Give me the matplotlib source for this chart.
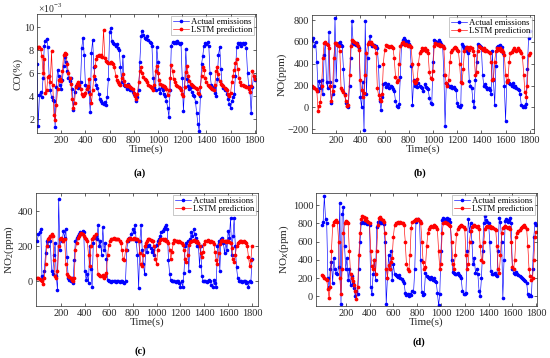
import numpy as np
import matplotlib
matplotlib.use("Agg")
import matplotlib.pyplot as plt

plt.rcParams['font.family'] = ['Liberation Serif', 'DejaVu Serif']
plt.rcParams['mathtext.fontset'] = 'custom'
plt.rcParams['mathtext.rm'] = 'Liberation Serif'

STEP = 10  # seconds between samples

co_actual = [6.8, 1.4, 4.1, 4.4, 3.9, 5.6, 8.4, 8.8, 9.0, 8.3, 5.8, 4.5, 3.9, 3.7, 3.6, 1.3, 4.8, 6.3, 5.8, 5.0,
             4.6, 5.4, 6.6, 7.4, 7.0, 6.2, 5.6, 5.3, 5.6, 4.6, 2.8, 4.4, 4.9, 5.0, 4.7, 4.8, 5.2, 8.2, 9.1, 7.6,
             5.0, 4.6, 4.8, 4.4, 2.6, 7.8, 8.9, 6.5, 5.5, 5.0, 4.7, 4.2, 3.8, 3.6, 3.4, 3.3, 3.5, 3.2, 3.9, 5.5,
             9.6, 9.9, 8.8, 8.6, 8.5, 8.4, 8.5, 8.2, 8.0, 6.5, 5.2, 7.5, 5.0, 4.9, 4.6, 5.1, 4.8, 4.5, 4.7, 4.4,
             4.2, 4.0, 3.6, 3.9, 4.5, 7.0, 9.2, 9.7, 9.3, 9.1, 9.0, 9.2, 8.9, 8.7, 8.6, 8.4, 5.6, 4.8, 4.5, 8.3,
             7.0, 4.6, 4.3, 4.8, 4.5, 4.2, 4.0, 3.6, 3.0, 2.2, 4.5, 8.4, 8.7, 8.6, 8.7, 8.6, 8.8, 8.6, 8.5, 8.6,
             5.6, 2.7, 4.8, 8.1, 5.5, 4.9, 4.6, 4.8, 4.4, 4.1, 4.0, 3.5, 2.5, 1.6, 1.0, 4.0, 6.8, 7.5, 8.4, 8.6,
             8.5, 8.7, 8.4, 6.0, 5.0, 4.6, 4.8, 4.3, 4.0, 5.5, 7.6, 8.3, 6.4, 5.0, 4.7, 4.5, 4.6, 4.2, 3.8, 3.3,
             3.0, 3.6, 3.9, 4.2, 5.8, 8.3, 8.6, 8.5, 8.6, 8.4, 8.6, 8.5, 8.6, 8.2, 6.0, 4.9, 4.4, 2.5, 4.8, 5.8,
             5.4]
co_lstm = [8.2, 8.3, 8.3, 8.1, 7.5, 6.0, 7.2, 4.3, 4.5, 5.7, 5.8, 5.2, 7.9, 5.0, 2.4, 1.9, 3.2, 4.6, 5.4, 5.5,
           5.3, 6.2, 7.6, 7.8, 7.7, 6.8, 6.0, 5.6, 5.1, 3.8, 3.0, 3.4, 4.8, 5.1, 5.2, 5.0, 4.6, 4.2, 4.0, 4.1,
           4.3, 4.6, 4.9, 5.5, 4.2, 3.4, 4.5, 5.8, 6.6, 7.2, 7.5, 7.6, 7.5, 7.6, 7.4, 9.8, 7.3, 7.1, 7.0, 6.9,
           6.9, 7.0, 6.9, 6.8, 6.5, 5.8, 5.4, 5.2, 5.1, 5.0, 5.6, 5.9, 5.3, 5.0, 4.9, 5.0, 4.9, 4.8, 4.7, 4.6,
           4.3, 4.0, 3.8, 4.2, 5.2, 6.2, 6.5, 6.0, 5.7, 5.5, 5.4, 5.2, 5.0, 4.9, 4.8, 4.7, 4.5, 5.0, 6.2, 6.6,
           6.0, 5.4, 5.1, 5.0, 4.9, 4.9, 4.8, 4.6, 4.1, 4.5, 5.6, 6.7, 6.2, 5.5, 5.2, 5.0, 4.9, 4.8, 4.7, 4.5,
           4.2, 4.0, 4.8, 6.1, 6.6, 5.8, 5.3, 5.1, 5.0, 4.9, 4.8, 4.7, 4.6, 4.3, 4.2, 4.8, 5.8, 6.5, 6.3, 5.6,
           5.2, 5.0, 4.9, 4.8, 4.7, 4.6, 4.5, 5.0, 6.2, 6.5, 5.9, 5.3, 5.1, 5.0, 4.9, 4.7, 4.6, 4.5, 4.2, 4.0,
           4.3, 5.2, 5.8, 6.3, 6.9, 7.2, 6.4, 5.6, 5.2, 5.0, 5.0, 4.9, 4.9, 4.8, 4.8, 4.6, 4.4, 4.9, 6.2, 5.8,
           5.5]

no_actual = [620, 640, 560, 600, 420, 150, 240, 180, 250, 120, 480, 590, 230, 180, 690, 230, 40, 120, 200, 820,
             250, 580, 590, 600, 570, 560, 350, 120, 40, 10, 0, 200, 450, 790, 590, 580, 570, 590, 560, 540,
             100, 0, 230, -210, 790, 120, 450, 600, 650, 580, 560, 570, 550, 560, 540, 380, 60, -20, 100, 210,
             220, 190, 200, 210, 180, 200, 190, 170, 150, 60, 10, 0, 30, 280, 580, 620, 640, 620, 600, 610,
             580, 560, 380, 20, 250, 200, 210, 190, 220, 200, 190, 180, 150, 210, 190, 180, 170, 90, 40, 30,
             420, 620, 610, 600, 590, 620, 600, 580, 560, 300, -170, 220, 210, 200, 190, 200, 180, 190, 170, 160,
             40, 10, 0, 20, 580, 560, 540, 550, 520, 500, 240, 200, 180, 60, 0, 250, 420, 580, 570, 560,
             550, 300, 200, 210, 190, 170, 180, 160, 120, 520, 250, 20, 380, 550, 560, 570, 540, 550, 500, 200,
             -120, 240, 230, 220, 210, 200, 220, 190, 200, 180, 170, 160, 120, 20, 0, 10, 0, 30, 350, 640,
             700]
no_lstm = [200, 190, 175, 165, 150, -30, 10, 50, 200, 450, 590, 600, 580, 570, 540, 200, 60, 150, 450, 590,
           590, 570, 560, 520, 180, 160, 140, 110, 60, 10, 20, 300, 560, 620, 610, 600, 590, 580, 560, 530,
           250, 160, 100, 130, 300, 500, 580, 600, 590, 600, 580, 560, 550, 500, 180, 110, 80, 60, 120, 400,
           530, 570, 560, 560, 550, 560, 550, 540, 450, 280, 230, 250, 400, 560, 590, 600, 580, 570, 580, 560,
           570, 560, 550, 400, 240, 220, 230, 260, 400, 500, 520, 540, 530, 540, 520, 530, 500, 320, 270, 260,
           330, 560, 590, 580, 570, 580, 560, 570, 560, 540, 300, 220, 200, 250, 420, 510, 530, 540, 550, 540,
           530, 520, 400, 230, 220, 350, 520, 540, 550, 540, 530, 550, 540, 520, 480, 300, 320, 520, 560, 550,
           540, 530, 540, 520, 530, 520, 510, 500, 420, 250, 260, 420, 520, 540, 530, 540, 520, 530, 510, 480,
           300, 230, 250, 420, 500, 510, 530, 540, 530, 520, 540, 530, 520, 500, 460, 300, 140, 100, 200, 480,
           500]

no2_actual = [230, 270, 280, 300, 30, 20, 60, 160, 230, 200, 250, 230, 60, 40, 150, 220, 30, -50, 470, 180,
              240, 230, 290, 250, 300, 140, 20, 10, 0, 20, -10, 120, 230, 250, 260, 270, 280, 270, 290, 280,
              60, 10, 40, -10, 200, 70, -30, 220, 250, 260, 240, 320, 200, 230, 150, 310, 180, 220, 130, 10,
              0, 0, -5, 0, 5, 0, -5, 0, 0, -5, 0, 5, -5, -10, 0, 180, 230, 250, 240, 270,
              300, 280, 320, 230, 150, -40, 230, 320, 180, 100, 40, 200, 170, 200, 210, 190, 170, 180, 150, 200,
              210, 230, 240, 260, 280, 290, 300, 310, 320, 300, 120, 40, 10, 0, 5, 0, -5, 0, 0, -10,
              -30, 0, -30, 50, 200, 220, 230, 60, 240, 280, 260, 300, 270, 250, 200, 220, 90, 200, 30, 0,
              5, 0, -5, 0, 10, 0, -20, -30, 10, -10, -30, 200, 230, 60, 240, 250, 220, 160, 230, 180,
              290, 250, 360, 150, 260, 360, 200, 80, 20, 0, 5, 0, -5, 0, 0, -10, -5, -30, 0, -5,
              130]
no2_lstm = [20, 20, 15, 10, 5, -15, 20, 100, 200, 240, 250, 260, 270, 260, 120, 30, 20, 60, 200, 240,
            250, 240, 230, 240, 100, 40, 30, 25, 20, 10, 5, 20, 180, 220, 250, 260, 270, 275, 270, 260,
            250, 240, 230, 150, 90, 200, 240, 250, 260, 270, 150, 40, 35, 30, 30, 35, 20, 30, 50, 150,
            210, 230, 240, 240, 250, 245, 240, 245, 240, 230, 220, 180, 130, 120, 180, 230, 240, 245, 250, 240,
            245, 250, 240, 245, 240, 230, 160, 100, 90, 150, 200, 220, 230, 240, 240, 235, 230, 230, 200, 130,
            100, 180, 220, 235, 240, 240, 235, 240, 230, 230, 220, 180, 130, 170, 220, 235, 230, 230, 225, 230,
            225, 220, 210, 180, 130, 110, 150, 210, 225, 230, 230, 235, 230, 225, 230, 220, 200, 160, 140, 170,
            215, 230, 230, 235, 230, 225, 230, 225, 215, 170, 120, 100, 160, 215, 230, 235, 230, 230, 225, 230,
            230, 225, 220, 190, 130, 110, 150, 200, 220, 225, 230, 230, 225, 230, 225, 220, 200, 140, 90, 120,
            200]

nox_actual = [780, 820, 1100, 850, 800, 200, 100, 300, 380, 150, 420, 300, 260, 240, 320, 1030, -90, 900, 980, 550,
              300, 420, 180, 300, 120, 220, 150, 90, 0, 60, 20, 300, 600, 800, 820, 810, 830, 800, 790, 810,
              780, 100, 20, 250, 400, 180, 760, 820, 800, 830, 810, 800, 790, 600, -90, 200, 450, 300, 500, 180,
              350, 250, 230, 220, 210, 230, 200, 190, 170, 150, 40, 10, 20, 0, 30, 10, 60, 50, 300, 820,
              840, 850, 830, 400, 50, 10, 30, 260, 220, 210, 200, 190, 210, 180, 200, 170, 160, 40, -100, 20,
              500, 840, 860, 850, 830, 860, 840, 850, 820, 400, 270, 260, 250, 240, 260, 230, 220, 200, 60, 30,
              20, 40, 500, 850, 720, 800, 600, 350, 420, 260, 300, 240, 60, 0, 200, 500, 800, 880, 840, 820,
              800, 600, 280, 250, 240, 260, 230, 220, 500, 860, 820, 600, -20, 400, 830, 850, 820, 840, 860, 800,
              300, 260, 250, 270, 240, 230, 220, 210, 200, 190, 180, 170, 150, 20, 0, 10, 0, 300, 650, 800,
              780]
nox_lstm = [230, 220, 200, 190, 180, 80, -20, 100, 500, 780, 820, 830, 840, 820, 600, 200, 20, 300, 700, 810,
            830, 820, 800, 500, 250, 200, 170, 120, 60, -30, 100, 450, 700, 850, 880, 870, 840, 860, 830, 820,
            800, 500, 330, 300, 400, 250, 500, 780, 860, 870, 850, 840, 820, 700, 300, 200, 340, 300, 380, 420,
            650, 780, 800, 810, 820, 800, 820, 810, 800, 780, 600, 350, 300, 280, 450, 750, 820, 830, 840, 850,
            840, 850, 830, 800, 600, 380, 300, 320, 550, 700, 740, 760, 770, 760, 780, 770, 760, 740, 500, 300,
            350, 700, 800, 820, 810, 800, 790, 780, 770, 600, 350, 300, 450, 680, 740, 760, 770, 780, 770, 760,
            740, 450, 300, 350, 600, 720, 760, 770, 780, 770, 760, 770, 740, 550, 400, 380, 600, 740, 760, 770,
            760, 770, 750, 760, 750, 740, 730, 550, 300, 260, 450, 700, 750, 760, 770, 760, 750, 760, 740, 600,
            320, 300, 400, 650, 700, 720, 730, 750, 760, 770, 780, 760, 740, 550, 300, 220, 180, 200, 400, 650,
            710]

legend_labels = ['Actual emissions', 'LSTM prediction']
time_ticks = [200, 400, 600, 800, 1000, 1200, 1400, 1600, 1800]

W, H = 550, 358
fig = plt.figure(figsize=(W / 100, H / 100), dpi=100)


def add_axes(l, r, t, b):
    return fig.add_axes([l / W, 1 - b / H, (r - l) / W, (b - t) / H])


panels = [
    dict(box=(37, 256, 14, 133), act=co_actual, pred=co_lstm, xlim=(0, 1810), ylim=(0.8, 11.15),
         yticks=[2, 4, 6, 8, 10], ylabel='CO(%)', tag='(a)', tagxy=(140, 173)),
    dict(box=(312, 534, 15, 133), act=no_actual, pred=no_lstm, xlim=(0, 1835), ylim=(-234, 846),
         yticks=[-200, 0, 200, 400, 600, 800], ylabel='NO(ppm)', tag='(b)', tagxy=(420, 173)),
    dict(box=(36, 258, 193, 306), act=no2_actual, pred=no2_lstm, xlim=(-10, 1850), ylim=(-140, 505),
         yticks=[0, 200, 400], ylabel=r'NO$_2$(ppm)', tag='(c)', tagxy=(140, 351)),
    dict(box=(316, 537, 193, 306), act=nox_actual, pred=nox_lstm, xlim=(-50, 1807), ylim=(-107, 1135),
         yticks=[0, 200, 400, 600, 800, 1000], ylabel=r'NO$_x$(ppm)', tag='(d)', tagxy=(419, 342)),
]

for p in panels:
    ax = add_axes(*p['box'])
    ta = np.arange(len(p['act'])) * STEP
    tp = np.arange(len(p['pred'])) * STEP
    ax.plot(ta, p['act'], '-', color='#0000ff', lw=0.45, marker='.', ms=3.2,
            label=legend_labels[0])
    ax.plot(tp, p['pred'], '-', color='#ff0000', lw=0.45, marker='.', ms=3.4,
            label=legend_labels[1])
    ax.set_xlim(*p['xlim'])
    ax.set_ylim(*p['ylim'])
    ax.set_xticks(time_ticks)
    ax.set_yticks(p['yticks'])
    ax.tick_params(direction='in', length=2, width=0.5, labelsize=7.5, pad=2,
                   top=True, right=True, colors='#262626', labelcolor='#262626')
    for s in ax.spines.values():
        s.set_linewidth(0.5)
        s.set_color('#262626')
    ax.set_xlabel('Time(s)', fontsize=8, labelpad=0, color='#262626')
    ax.set_ylabel(p['ylabel'], fontsize=8, labelpad=1, color='#262626')
    leg = ax.legend(loc='upper right', fontsize=6.3, frameon=True, fancybox=False,
                    edgecolor='#888888', borderpad=0.15, labelspacing=0.05,
                    handlelength=1.8, handletextpad=0.3, borderaxespad=0.25)
    leg.get_frame().set_linewidth(0.4)
    fig.text(p['tagxy'][0] / W, 1 - p['tagxy'][1] / H, p['tag'], fontsize=7.5,
             fontweight='bold', ha='center', va='center')
    if p['tag'] == '(a)':
        fig.text(38 / W, 1 - 8 / H, r'$\times10^{-3}$', fontsize=7, color='#262626',
                 ha='left', va='center')

fig.savefig('out.png', dpi=100)
